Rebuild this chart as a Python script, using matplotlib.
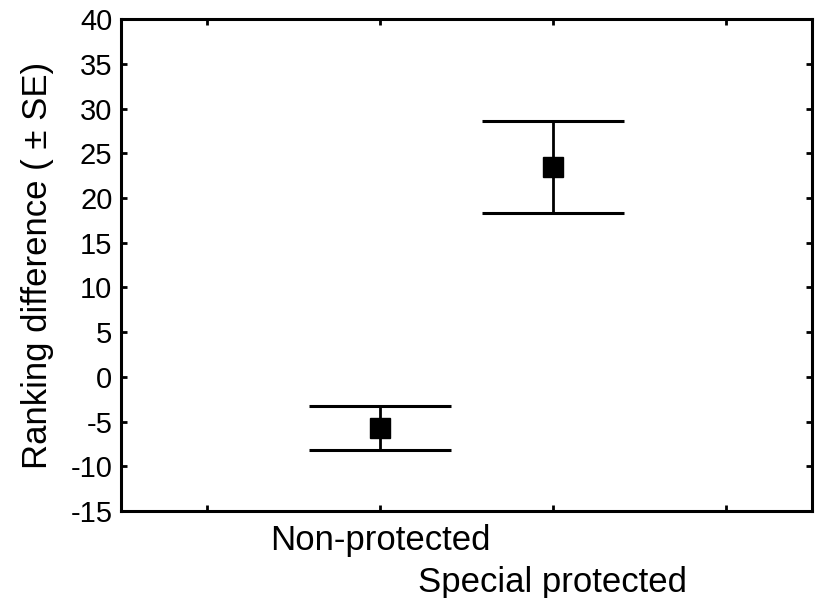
import matplotlib
matplotlib.use("Agg")
import matplotlib.pyplot as plt
import matplotlib.transforms as mtransforms

categories = ["Non-protected", "Special protected"]
means = [-5.7, 23.5]
se = [2.45, 5.15]
yticks = [-15, -10, -5, 0, 5, 10, 15, 20, 25, 30, 35, 40]

plt.rcParams['font.family'] = ['Liberation Sans', 'DejaVu Sans']

fig = plt.figure(figsize=(8.16, 5.98), dpi=100)
ax = fig.add_axes([0.148, 0.1455, 0.847, 0.8225])

xpos = [1, 2]
ax.errorbar(xpos, means, yerr=se, fmt='s', color='black', ecolor='black',
            markersize=14, elinewidth=2, capsize=51, capthick=2.2)

ax.set_xlim(-0.5, 3.5)
ax.set_ylim(-15, 40)
ax.set_yticks(yticks)
ax.set_yticklabels([str(v) for v in yticks], fontsize=21)
ax.set_xticks([0, 1, 2, 3])
ax.set_xticklabels([])
ax.tick_params(axis='both', direction='in', length=4, width=2, top=True, right=True, pad=6)
for s in ax.spines.values():
    s.set_linewidth(2.2)

trans = mtransforms.blended_transform_factory(ax.transData, ax.transAxes)
offsets = [-0.061, -0.146]
for x, lab, off in zip(xpos, categories, offsets):
    ax.text(x, off, lab, transform=trans, ha='center', va='center', fontsize=25)

ax.set_ylabel("Ranking difference ( ± SE)", fontsize=25, labelpad=12)

fig.savefig("out.png", dpi=100)
